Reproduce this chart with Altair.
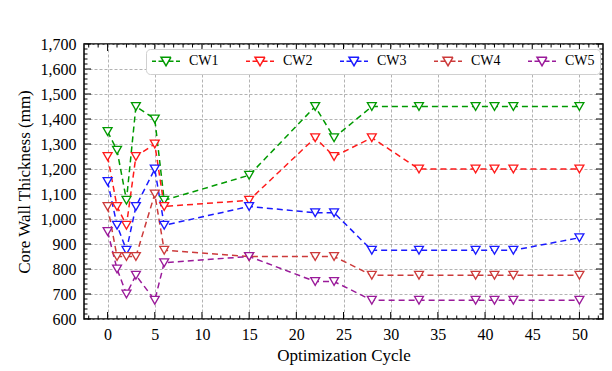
import altair as alt
import pandas as pd

cycles = [0, 1, 2, 3, 5, 6, 15, 22, 24, 28, 33, 39, 41, 43, 50]
series_names = ["CW1", "CW2", "CW3", "CW4", "CW5"]
cw1 = [1350, 1275, 1075, 1450, 1400, 1075, 1175, 1450, 1325, 1450, 1450, 1450, 1450, 1450, 1450]
cw2 = [1250, 1050, 975, 1250, 1300, 1050, 1075, 1325, 1250, 1325, 1200, 1200, 1200, 1200, 1200]
cw3 = [1150, 975, 875, 1050, 1200, 975, 1050, 1025, 1025, 875, 875, 875, 875, 875, 925]
cw4 = [1050, 850, 850, 850, 1100, 875, 850, 850, 850, 775, 775, 775, 775, 775, 775]
cw5 = [950, 800, 700, 775, 675, 825, 850, 750, 750, 675, 675, 675, 675, 675, 675]
colors = ["#009a00", "#ff1a1a", "#1a1aff", "#cc3a3a", "#9a1a9a"]

x_major = list(range(0, 51, 5))
x_minor = [v for v in range(-2, 53) if v % 5 != 0]
y_major = list(range(600, 1701, 100))
y_minor = [v for v in range(600, 1701, 20) if v % 100 != 0]

W, H = 519, 275
FONT = "Liberation Serif"

rows = []
for name, vals in zip(series_names, [cw1, cw2, cw3, cw4, cw5]):
    for c, v in zip(cycles, vals):
        rows.append({"cycle": c, "thickness": v, "series": name})
df = pd.DataFrame(rows)

xscale = alt.Scale(domain=[-2.5, 52.5], nice=False, zero=False)
yscale = alt.Scale(domain=[600, 1700], nice=False, zero=False)

xaxis = alt.Axis(title="Optimization Cycle", values=x_major, grid=True, ticks=False,
                 domain=False, labelPadding=7, titlePadding=5, labelFontSize=16,
                 titleFontSize=17, labelFlush=False, labelOverlap=False,
                 labelFont=FONT, titleFont=FONT)
yaxis = alt.Axis(title="Core Wall Thickness (mm)", values=y_major, grid=True, ticks=False,
                 domain=False, labelPadding=8, titlePadding=7, format=",d",
                 labelFontSize=16, titleFontSize=17, labelFlush=False, labelOverlap=False,
                 labelFont=FONT, titleFont=FONT)

legend_path = ("M-2.8,0H-2M-1.5,0H-0.53M0.53,0H1.5M2,0H2.8"
               "M-1,-0.8L1,-0.8L0,0.9Z")

color_scale = alt.Scale(domain=series_names, range=colors)
legend = alt.Legend(title=None, orient="none", legendX=62, legendY=5,
                    direction="horizontal", columns=5,
                    symbolType=legend_path, symbolSize=100,
                    symbolStrokeWidth=1.5, symbolFillColor="white",
                    symbolDash=[1, 0],
                    symbolOffset=8, labelOffset=16,
                    columnPadding=24, padding=5,
                    labelFontSize=14, labelFont=FONT,
                    fillColor="white", strokeColor="#d0d0d0",
                    cornerRadius=4)

base = alt.Chart(df)
lines = base.mark_line(strokeDash=[6, 4], strokeWidth=1.5).encode(
    x=alt.X("cycle:Q", scale=xscale, axis=xaxis),
    y=alt.Y("thickness:Q", scale=yscale, axis=yaxis),
    stroke=alt.Stroke("series:N", scale=color_scale, legend=legend),
    detail="series:N",
)
points = base.mark_point(shape="triangle-down", size=80, fill="white", filled=False,
                         strokeWidth=1.3, opacity=1, fillOpacity=1).encode(
    x=alt.X("cycle:Q", scale=xscale, axis=xaxis),
    y=alt.Y("thickness:Q", scale=yscale, axis=yaxis),
    stroke=alt.Stroke("series:N", scale=color_scale, legend=legend),
)

xmaj = pd.DataFrame({"v": x_major})
xmin = pd.DataFrame({"v": x_minor})
ymaj = pd.DataFrame({"v": y_major})
ymin = pd.DataFrame({"v": y_minor})

def xticks(d, length):
    bottom = alt.Chart(d).mark_rule(color="black", strokeWidth=1).encode(
        x=alt.X("v:Q", scale=xscale, axis=xaxis), y=alt.value(H), y2=alt.value(H - length))
    top = alt.Chart(d).mark_rule(color="black", strokeWidth=1).encode(
        x=alt.X("v:Q", scale=xscale, axis=xaxis), y=alt.value(0), y2=alt.value(length))
    return [bottom, top]

def yticks(d, length):
    left = alt.Chart(d).mark_rule(color="black", strokeWidth=1).encode(
        y=alt.Y("v:Q", scale=yscale, axis=yaxis), x=alt.value(0), x2=alt.value(length))
    right = alt.Chart(d).mark_rule(color="black", strokeWidth=1).encode(
        y=alt.Y("v:Q", scale=yscale, axis=yaxis), x=alt.value(W), x2=alt.value(W - length))
    return [left, right]

tick_layers = xticks(xmaj, 7) + xticks(xmin, 3.5) + yticks(ymaj, 7) + yticks(ymin, 3.5)

chart = alt.layer(lines, points, *tick_layers).properties(
    width=W, height=H,
    autosize=alt.AutoSizeParams(type="none"),
    padding={"left": 84, "top": 44, "right": 9, "bottom": 52},
    background="white",
).configure_view(
    stroke="black", strokeWidth=1.5
).configure_axis(
    gridColor="#a0a0a0", gridDash=[3, 2], gridWidth=0.8, gridOpacity=1,
    labelFont=FONT, titleFont=FONT, labelColor="black", titleColor="black",
    titleFontWeight="normal"
).configure_legend(
    labelFont=FONT, labelColor="black"
)

chart.save("out.html", embed_options={"renderer": "svg", "actions": False})
